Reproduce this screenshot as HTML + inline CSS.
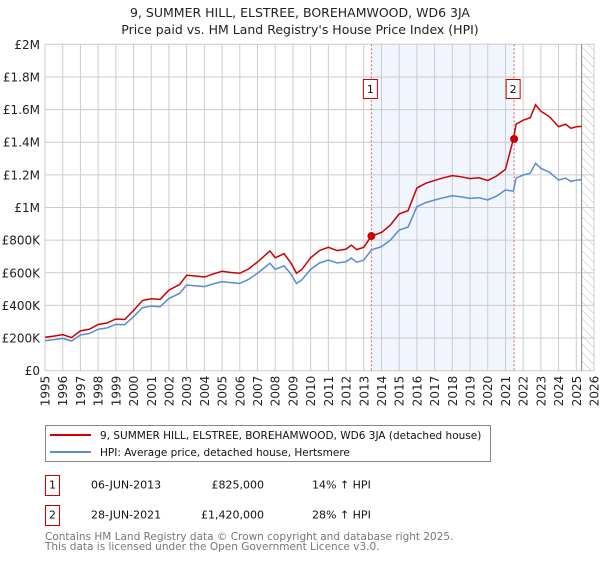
<!DOCTYPE html>
<html><head><meta charset="utf-8">
<style>
body{margin:0;background:#fff;font-family:"DejaVu Sans","Liberation Sans",sans-serif;}
svg text{font-family:"DejaVu Sans","Liberation Sans",sans-serif;}
</style></head>
<body>
<svg id="chart" width="600" height="560" viewBox="0 0 600 560" xmlns="http://www.w3.org/2000/svg">
<defs>
<pattern id="hatch" patternUnits="userSpaceOnUse" width="6" height="6" patternTransform="rotate(-45)">
<line x1="0" y1="0" x2="0" y2="6" stroke="#bbb" stroke-width="1"/>
</pattern>
</defs>
<text x="300" y="17" text-anchor="middle" font-size="12.5" fill="#222">9, SUMMER HILL, ELSTREE, BOREHAMWOOD, WD6 3JA</text>
<text x="300" y="34" text-anchor="middle" font-size="12.5" fill="#222">Price paid vs. HM Land Registry's House Price Index (HPI)</text>
<g id="plot"></g>
<g>
<rect x="45.5" y="425.5" width="445" height="36" fill="#fff" stroke="#888"/>
<line x1="50" y1="435" x2="91" y2="435" stroke="#cc0000" stroke-width="2"/>
<text x="100" y="439" font-size="10.5" fill="#111">9, SUMMER HILL, ELSTREE, BOREHAMWOOD, WD6 3JA (detached house)</text>
<line x1="50" y1="452" x2="91" y2="452" stroke="#5b8bd0" stroke-width="2"/>
<text x="100" y="456" font-size="10.5" fill="#111">HPI: Average price, detached house, Hertsmere</text>
</g>
<g font-size="11" fill="#111">
<rect x="45.5" y="475.5" width="14" height="20" fill="#fff" stroke="#cc0000"/>
<text x="52.5" y="488.5" text-anchor="middle">1</text>
<text x="91" y="488.5">06-JUN-2013</text>
<text x="264" y="488.5" text-anchor="end">£825,000</text>
<text x="312" y="488.5">14% ↑ HPI</text>
</g>
<g font-size="11" fill="#111">
<rect x="45.5" y="505.5" width="14" height="20" fill="#fff" stroke="#cc0000"/>
<text x="52.5" y="518.5" text-anchor="middle">2</text>
<text x="91" y="518.5">28-JUN-2021</text>
<text x="264" y="518.5" text-anchor="end">£1,420,000</text>
<text x="312" y="518.5">28% ↑ HPI</text>
</g>
<g font-size="10.5" fill="#777">
<text x="45" y="540">Contains HM Land Registry data © Crown copyright and database right 2025.</text>
<text x="45" y="550">This data is licensed under the Open Government Licence v3.0.</text>
</g>
</svg>
<script>
const hpiYears=[1995,1995.5,1996,1996.5,1997,1997.5,1998,1998.5,1999,1999.5,2000,2000.5,2001,2001.5,2002,2002.6,2003,2003.5,2004,2004.5,2005,2005.5,2006,2006.5,2007,2007.7,2008,2008.5,2008.9,2009.2,2009.5,2010,2010.5,2011,2011.5,2012,2012.3,2012.6,2013,2013.43,2014,2014.5,2015,2015.5,2016,2016.5,2017,2017.5,2018,2018.5,2019,2019.5,2020,2020.5,2021,2021.45,2021.6,2022,2022.4,2022.7,2023,2023.5,2024,2024.4,2024.7,2025,2025.3];
const hpiValues=[184,190,198,182,219,228,254,262,284,282,331,386,396,392,443,474,525,520,515,532,546,540,535,560,597,658,621,643,590,535,556,621,660,678,660,668,690,665,678,740,760,800,862,880,1005,1030,1046,1060,1072,1065,1056,1060,1046,1070,1107,1100,1180,1199,1210,1271,1240,1215,1168,1180,1160,1168,1170];
const ppdValues=[205,212,221,203,244,254,283,292,317,314,369,430,441,437,494,528,585,580,574,593,609,602,597,624,666,734,692,717,658,597,620,692,736,756,736,745,769,742,756,825,847,892,961,981,1120,1148,1166,1182,1195,1188,1177,1182,1166,1193,1234,1420,1510,1535,1550,1630,1590,1555,1495,1510,1485,1495,1497];
const yTicks=[0,200,400,600,800,1000,1200,1400,1600,1800,2000];
const yTickLabels=["£0","£200K","£400K","£600K","£800K","£1M","£1.2M","£1.4M","£1.6M","£1.8M","£2M"];
const xTicks=[1995,1996,1997,1998,1999,2000,2001,2002,2003,2004,2005,2006,2007,2008,2009,2010,2011,2012,2013,2014,2015,2016,2017,2018,2019,2020,2021,2022,2023,2024,2025,2026];
const saleYears=[2013.43,2021.49];
const saleValues=[825,1420];
const saleLabels=["1","2"];

const X0=45,X1=594,Y0=370.7,Y1=44.3;
const xs=y=>X0+(y-1995)/(2026-1995)*(X1-X0);
const ys=v=>Y0-(v/2000)*(Y0-Y1);
const NS="http://www.w3.org/2000/svg";
const g=document.getElementById('plot');
function mk(tag,attrs){const e=document.createElementNS(NS,tag);for(const k in attrs)e.setAttribute(k,attrs[k]);g.appendChild(e);return e;}

const shade=mk('rect',{x:xs(saleYears[0]),y:Y1,width:xs(saleYears[1])-xs(saleYears[0]),height:Y0-Y1,fill:'#eef3fd',opacity:0.8});


const hat=mk('rect',{x:xs(2025.3),y:Y1,width:X1-xs(2025.3),height:Y0-Y1,fill:'url(#hatch)'});



yTicks.forEach((v,i)=>{
  const l=mk('line',{x1:X0,x2:X1,y1:ys(v),y2:ys(v),stroke:'#ccc','stroke-width':1});
  
  
  const t=mk('text',{x:X0-5,y:ys(v)+4.5,'text-anchor':'end','font-size':12,fill:'#222'});
  t.textContent=yTickLabels[i];
  
  
});
xTicks.forEach(y=>{
  const l=mk('line',{x1:xs(y),x2:xs(y),y1:Y1,y2:Y0,stroke:'#ccc','stroke-width':1});
  
  
  const t=mk('text',{x:0,y:0,'text-anchor':'end','font-size':12,fill:'#222',transform:`translate(${xs(y)+4.5},${Y0+5}) rotate(-90)`});
  t.textContent=y;
  
  
});
const edge=mk('line',{x1:xs(2025.3),x2:xs(2025.3),y1:Y1,y2:Y0,stroke:'#888','stroke-width':1});



saleYears.forEach((y,i)=>{
  const l=mk('line',{x1:xs(y),x2:xs(y),y1:Y1,y2:Y0,stroke:'#e06666','stroke-width':1,'stroke-dasharray':'2,2'});
  
  
  const r=mk('rect',{x:xs(y)-8,y:79.5,width:14,height:19,fill:'#fff',stroke:'#cc0000'});
  
  
  const t=mk('text',{x:xs(y)-1,y:93,'text-anchor':'middle','font-size':11,fill:'#111'});
  t.textContent=saleLabels[i];
  
  
});

const hp=mk('polyline',{points:hpiYears.map((y,i)=>xs(y)+','+ys(hpiValues[i])).join(' '),fill:'none',stroke:'#5b8bd0','stroke-width':1.5});


const pp=mk('polyline',{points:hpiYears.map((y,i)=>xs(y)+','+ys(ppdValues[i])).join(' '),fill:'none',stroke:'#cc0000','stroke-width':1.5});


saleYears.forEach((y,i)=>{
  const c=mk('circle',{cx:xs(y),cy:ys(saleValues[i]),r:4,fill:'#cc0000'});
  
  
});
</script>
</body></html>
